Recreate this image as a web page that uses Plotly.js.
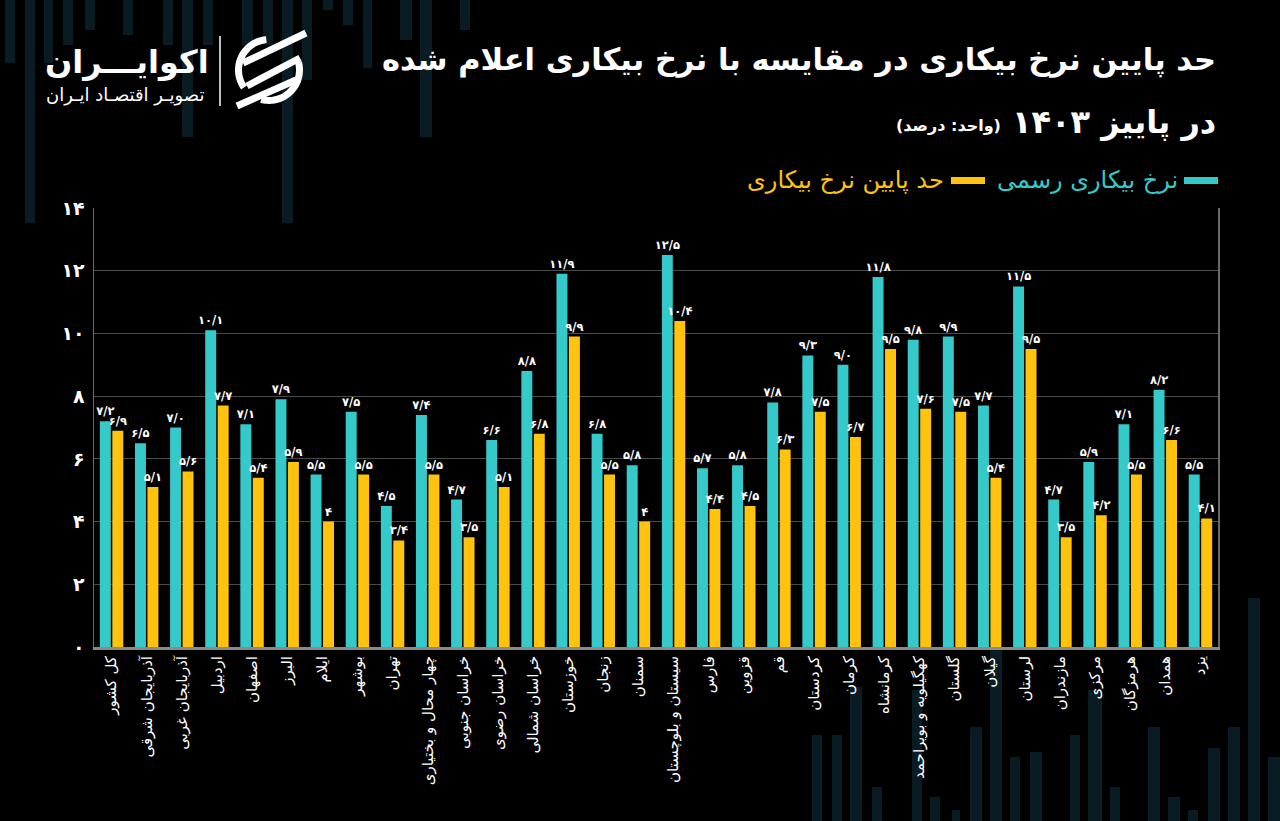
<!DOCTYPE html>
<html>
<head>
<meta charset="utf-8">
<script src="https://cdn.plot.ly/plotly-3.0.1.min.js"></script>
<style>
html,body{margin:0;padding:0;background:#000;}
#chart{width:1280px;height:821px;}
</style>
</head>
<body>
<div id="chart"></div>
<script>
// ---------- DATA ----------
const provinces = [
  "کل کشور","آذربایجان شرقی","آذربایجان غربی","اردبیل","اصفهان","البرز","ایلام","بوشهر",
  "تهران","چهار محال و بختیاری","خراسان جنوبی","خراسان رضوی","خراسان شمالی","خوزستان","زنجان","سمنان",
  "سیستان و بلوچستان","فارس","قزوین","قم","کردستان","کرمان","کرمانشاه","کهگیلویه و بویراحمد",
  "گلستان","گیلان","لرستان","مازندران","مرکزی","هرمزگان","همدان","یزد"
];
const officialRate = [
  7.2, 6.5, 7.0, 10.1, 7.1, 7.9, 5.5, 7.5,
  4.5, 7.4, 4.7, 6.6, 8.8, 11.9, 6.8, 5.8,
  12.5, 5.7, 5.8, 7.8, 9.3, 9.0, 11.8, 9.8,
  9.9, 7.7, 11.5, 4.7, 5.9, 7.1, 8.2, 5.5
];
const lowerBoundRate = [
  6.9, 5.1, 5.6, 7.7, 5.4, 5.9, 4, 5.5,
  3.4, 5.5, 3.5, 5.1, 6.8, 9.9, 5.5, 4,
  10.4, 4.4, 4.5, 6.3, 7.5, 6.7, 9.5, 7.6,
  7.5, 5.4, 9.5, 3.5, 4.2, 5.5, 6.6, 4.1
];
const yTickValues = [0, 2, 4, 6, 8, 10, 12, 14];
const seriesNames = ["نرخ بیکاری رسمی", "حد پایین نرخ بیکاری"];

// ---------- HELPERS ----------
const FA_DIGITS = "۰۱۲۳۴۵۶۷۸۹";
function fa(s){ return String(s).replace(/[0-9]/g, d => FA_DIGITS[d]).replace(".", "/"); }

const TEAL = "#35C9CA";
const YELLOW = "#FFC20E";
const FONT = "DejaVu Sans";

// pixel -> paper conversion (plot area: x 94..1218, y 208..647)
const PL = 94, PR = 1218, PT = 208, PB = 647;
const PX = x => (x - PL) / (PR - PL);
const PY = y => (PB - y) / (PB - PT);

// ---------- TRACES ----------
const traces = [
  {
    type: "bar", name: seriesNames[0], x: provinces, y: officialRate,
    marker: {color: TEAL},
    text: officialRate.map(v => fa(v.toFixed(1))),
    textposition: "outside", cliponaxis: false, constraintext: "none",
    textfont: {color: "#ffffff", size: 11.5, family: FONT, weight: 700},
    hoverinfo: "x+y"
  },
  {
    type: "bar", name: seriesNames[1], x: provinces, y: lowerBoundRate,
    marker: {color: YELLOW},
    text: lowerBoundRate.map(v => fa(String(v))),
    textposition: "outside", cliponaxis: false, constraintext: "none",
    textfont: {color: "#ffffff", size: 11.5, family: FONT, weight: 700},
    hoverinfo: "x+y"
  }
];

// ---------- DECORATION (background stripes, logo) ----------
const shapes = [];
const stripeColor = "#091c23";
// top-left stripes hanging from top: [x0, x1, yBottom]
const topStripes = [[5,15,63],[25,35,223],[44,53,63],[63,73,45],[85,95,30],[123,133,35],[163,173,45],[182,193,137],
  [203,213,45],[242,253,45],[263,273,45],[282,293,223],[302,312,80],[323,333,10],[343,353,25],[363,372,68],[400,412,40],[420,432,137],[460,470,30]];
topStripes.forEach(s => shapes.push({type:"rect", xref:"paper", yref:"paper", layer:"below",
  x0:PX(s[0]), x1:PX(s[1]), y0:PY(s[2]), y1:PY(0), fillcolor:stripeColor, line:{width:0}}));
// bottom-right stripes rising from bottom: [x0, x1, yTop]
const bottomStripes = [[812,822,735],[832,842,735],[850,862,687],[872,882,787],[912,922,690],[930,940,797],[952,960,810],
  [970,982,727],[990,1002,650],[1010,1020,757],[1030,1042,752],[1070,1080,735],[1088,1102,690],[1110,1120,787],
  [1148,1160,727],[1168,1180,797],[1188,1198,810],[1208,1220,748],[1228,1240,727],[1248,1260,598],[1268,1280,757]];
bottomStripes.forEach(s => shapes.push({type:"rect", xref:"paper", yref:"paper", layer:"below",
  x0:PX(s[0]), x1:PX(s[1]), y0:PY(821), y1:PY(s[2]), fillcolor:stripeColor, line:{width:0}}));

// logo divider
shapes.push({type:"line", xref:"paper", yref:"paper", x0:PX(220), x1:PX(220), y0:PY(36), y1:PY(106),
  line:{color:"#ffffff", width:1.5}});
// logo icon: ring arcs + diagonal bands
function arcPath(cx, cy, R, r, a0, a1){
  const pts = [];
  const n = 24;
  for(let i=0;i<=n;i++){ const a=(a0+(a1-a0)*i/n)*Math.PI/180; pts.push([cx+R*Math.cos(a), cy-R*Math.sin(a)]); }
  for(let i=n;i>=0;i--){ const a=(a0+(a1-a0)*i/n)*Math.PI/180; pts.push([cx+r*Math.cos(a), cy-r*Math.sin(a)]); }
  return "M" + pts.map(p => PX(p[0]) + "," + PY(p[1])).join(" L") + " Z";
}
shapes.push({type:"path", xref:"paper", yref:"paper", path: arcPath(269,70,34,27,95,215), fillcolor:"#fff", line:{width:0}});
shapes.push({type:"path", xref:"paper", yref:"paper", path: arcPath(269,70,34,27,255,375), fillcolor:"#fff", line:{width:0}});
[[243,63,306,33],[247,86,300,58],[237,106,296,80]].forEach(b => shapes.push({type:"line", xref:"paper", yref:"paper",
  x0:PX(b[0]), y0:PY(b[1]), x1:PX(b[2]), y1:PY(b[3]), line:{color:"#fff", width:7}}));

// legend swatches
shapes.push({type:"rect", xref:"paper", yref:"paper", x0:PX(1184), x1:PX(1218), y0:PY(184), y1:PY(177), fillcolor:TEAL, line:{width:0}});
shapes.push({type:"rect", xref:"paper", yref:"paper", x0:PX(951), x1:PX(985), y0:PY(184), y1:PY(177), fillcolor:YELLOW, line:{width:0}});

// ---------- ANNOTATIONS ----------
const annotations = [
  {text:"<b>حد پایین نرخ بیکاری در مقایسه با نرخ بیکاری اعلام شده</b>", xref:"paper", yref:"paper",
   x:PX(1218), y:PY(60), xanchor:"right", yanchor:"middle", showarrow:false,
   font:{family:FONT, size:30.5, color:"#ffffff"}},
  {text:"<b>در پاییز ۱۴۰۳</b>", xref:"paper", yref:"paper",
   x:PX(1218), y:PY(122), xanchor:"right", yanchor:"middle", showarrow:false,
   font:{family:FONT, size:32, color:"#ffffff"}},
  {text:"<b>(واحد: درصد)</b>", xref:"paper", yref:"paper",
   x:PX(1003), y:PY(125), xanchor:"right", yanchor:"middle", showarrow:false,
   font:{family:FONT, size:16, color:"#ffffff"}},
  {text:seriesNames[0], xref:"paper", yref:"paper",
   x:PX(1180), y:PY(180), xanchor:"right", yanchor:"middle", showarrow:false,
   font:{family:FONT, size:24, color:TEAL}},
  {text:seriesNames[1], xref:"paper", yref:"paper",
   x:PX(946), y:PY(180), xanchor:"right", yanchor:"middle", showarrow:false,
   font:{family:FONT, size:24, color:YELLOW}},
  {text:"<b>اکوایـــران</b>", xref:"paper", yref:"paper",
   x:PX(211), y:PY(62), xanchor:"right", yanchor:"middle", showarrow:false,
   font:{family:FONT, size:32, color:"#ffffff"}},
  {text:"تصویـر اقتصـاد ایـران", xref:"paper", yref:"paper",
   x:PX(206), y:PY(95), xanchor:"right", yanchor:"middle", showarrow:false,
   font:{family:FONT, size:18, color:"#ffffff"}}
];

// ---------- LAYOUT ----------
const layout = {
  width: 1280, height: 821,
  paper_bgcolor: "#000000", plot_bgcolor: "rgba(0,0,0,0)",
  margin: {l: PL, r: 1280 - PR, t: PT, b: 821 - PB, pad: 0},
  barmode: "group", bargap: 0.29, bargroupgap: 0.12,
  showlegend: false,
  font: {family: FONT, color: "#ffffff"},
  xaxis: {
    type: "category", tickangle: -90,
    tickfont: {family: FONT, size: 15, color: "#ffffff"},
    showline: true, linecolor: "#8a8a8a", linewidth: 3,
    showgrid: false, ticks: "", fixedrange: true
  },
  yaxis: {
    range: [0, 14], tickvals: yTickValues, ticktext: yTickValues.map(fa),
    tickfont: {family: FONT, size: 19, color: "#ffffff", weight: 700},
    showgrid: true, gridcolor: "#4a4a4a", gridwidth: 1,
    showline: true, linecolor: "#6a6a6a", linewidth: 1.5, mirror: true,
    zeroline: false, ticks: "", ticklabelstandoff: 4, fixedrange: true
  },
  shapes: shapes,
  annotations: annotations
};

Plotly.newPlot("chart", traces, layout, {displayModeBar: false, staticPlot: true});
</script>
</body>
</html>
